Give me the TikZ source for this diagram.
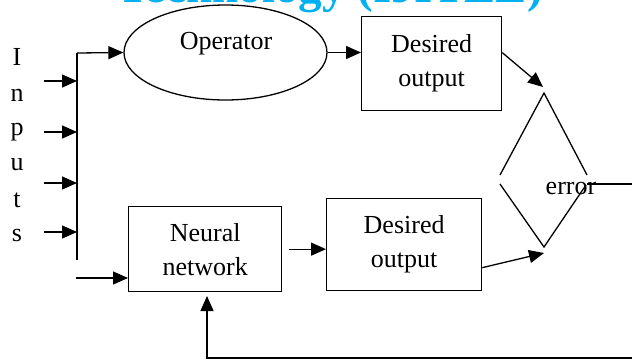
\documentclass[tikz,border=0pt]{standalone}
\usepackage{fontspec}
\setmainfont{Liberation Serif}
\usetikzlibrary{shapes.geometric,arrows.meta,calc}
\definecolor{titlecyan}{RGB}{0,176,240}
\begin{document}
\begin{tikzpicture}[x=1pt,y=-1pt,
  every node/.style={font=\fontsize{26}{34}\selectfont, inner sep=0pt},
  line/.style={line width=1.3pt},
  arr/.style={line, -{Triangle[length=15pt,width=13pt]}},
  blk/.style={draw, line width=1.3pt, align=center, anchor=north west}]
\useasboundingbox (0,0) rectangle (632,362);
% clipped title
\node[anchor=base east, text=titlecyan, font=\fontsize{47}{47}\selectfont\bfseries] (title) at (543,2) {Technology (IJITEE)};
% input letters
\node (l1) at (17,57) {I};
\node (l2) at (17,95) {n};
\node (l3) at (17,132) {p};
\node (l4) at (17,165) {u};
\node (l5) at (17,200) {t};
\node (l6) at (17,235) {s};
% blocks
\node[draw, ellipse, line width=1.3pt, minimum width=203pt, minimum height=95pt] (op) at (225.5,52.5) {};
\node (optext) at (226,44) {Operator};
\node[blk, minimum width=140pt, minimum height=94pt] (d1) at (361,16) {Desired\\output};
\node[blk, minimum width=153pt, minimum height=85pt] (nn) at (128,206) {Neural\\network};
\node[blk, minimum width=155pt, minimum height=92pt] (d2) at (326,198) {Desired\\output};
% bus
\coordinate (jt) at (77,53);
\coordinate (jb) at (77,260);
\draw[line] (jb) -- (jt);
\draw[arr] (jt) -- (op.west);
\coordinate (a1) at (44,81);
\coordinate (a2) at (44,132);
\coordinate (a3) at (44,183);
\coordinate (a4) at (44,232);
\foreach \a in {a1,a2,a3,a4} \draw[arr] (\a) -- (\a -| jt);
\coordinate (a5) at (76,278);
\draw[arr] (a5) -- (a5 -| nn.west);
% operator to desired
\draw[arr] (op.east) -- (op.east -| d1.west);
% error comparator
\coordinate (dT) at (544,93);
\coordinate (dUL) at (500,175);
\coordinate (dUR) at (587,175);
\coordinate (dLL) at (500,184);
\coordinate (dB) at (544,247);
\coordinate (dLR) at (586,185);
\coordinate (dO) at (587,184);
\coordinate (eo) at (632,184);
\draw[line] (dUL) -- (dT) -- (dUR);
\draw[line] (dLL) -- (dB) -- (dLR);
\draw[line] (dO) -- (eo);
\node (err) at (571,188) {error};
\coordinate (e1) at (543,87);
\coordinate (e2) at (544,253);
\draw[arr] ([yshift=11pt]d1.east) -- (e1);
\draw[arr] ([yshift=-23pt]d2.east) -- (e2);
% neural to desired
\draw[arr] ([xshift=7pt]nn.east) -- (nn.east -| d2.west);
% feedback
\coordinate (fb) at (632,358);
\coordinate (fbt) at (207,296);
\draw[arr] (fb) -| (fbt);
\end{tikzpicture}
\end{document}
